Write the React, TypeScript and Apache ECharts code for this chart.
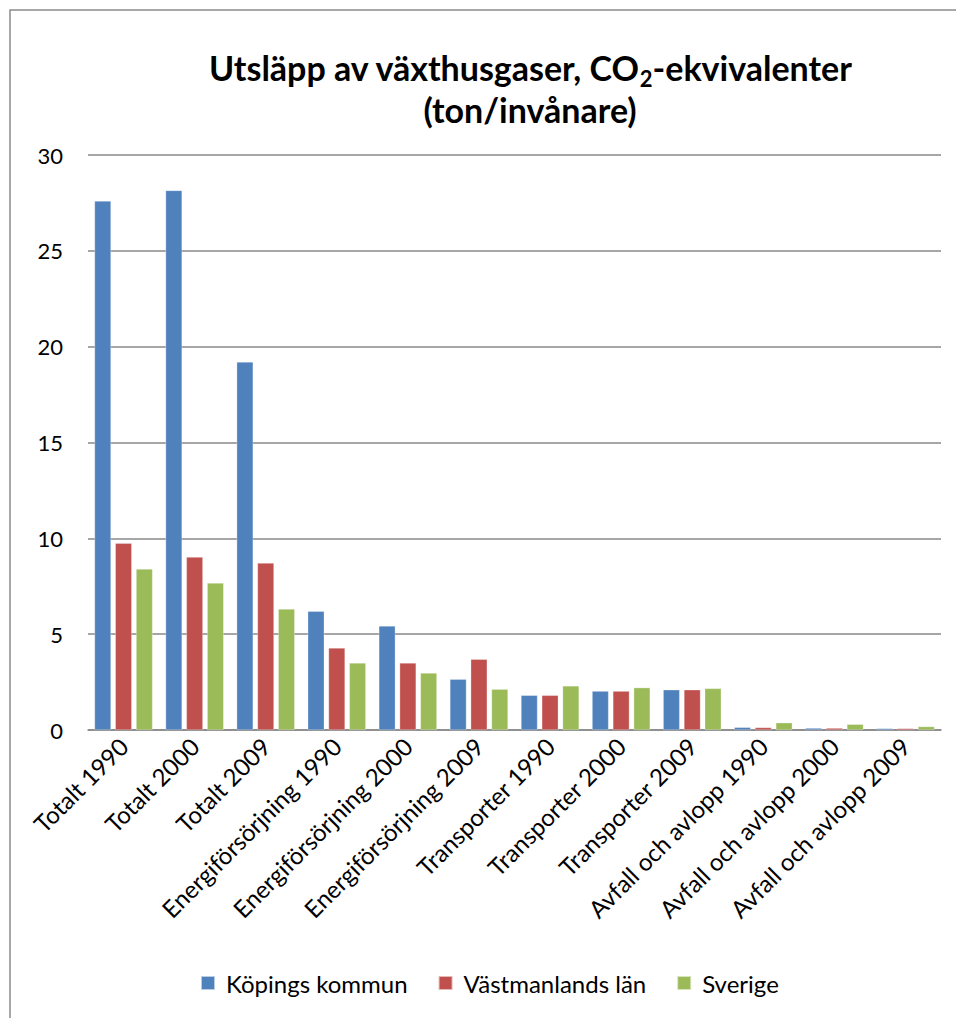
import React, { useEffect, useRef } from "react";
import * as echarts from "echarts";

const categories = [
  "Totalt 1990",
  "Totalt 2000",
  "Totalt 2009",
  "Energiförsörjning 1990",
  "Energiförsörjning 2000",
  "Energiförsörjning 2009",
  "Transporter 1990",
  "Transporter 2000",
  "Transporter 2009",
  "Avfall och avlopp 1990",
  "Avfall och avlopp 2000",
  "Avfall och avlopp 2009",
];
const koping = [27.6, 28.15, 19.2, 6.2, 5.43, 2.65, 1.81, 2.03, 2.1, 0.14, 0.1, 0.08];
const vastmanland = [9.75, 9.02, 8.71, 4.28, 3.5, 3.69, 1.81, 2.03, 2.1, 0.13, 0.1, 0.08];
const sverige = [8.4, 7.67, 6.31, 3.5, 2.97, 2.13, 2.3, 2.21, 2.17, 0.38, 0.3, 0.18];
const seriesNames = ["Köpings kommun", "Västmanlands län", "Sverige"];
const colors = ["#4F81BD", "#C0504D", "#9BBB59"];
const FONT = "Lato, 'Open Sans', sans-serif";

export default function App() {
  const ref = useRef<HTMLDivElement>(null);
  useEffect(() => {
    if (!ref.current) return;
    const chart = echarts.init(ref.current, null, { renderer: "svg" });
    const data = [koping, vastmanland, sverige];
    const legendPadRight = [0, 14, 0];
    chart.setOption({
      animation: false,
      backgroundColor: "#ffffff",
      textStyle: { fontFamily: FONT },
      graphic: [
        {
          type: "rect",
          shape: { x: 10, y: 10, width: 960, height: 1030 },
          style: { fill: "none", stroke: "#8c8c8c", lineWidth: 1.5 },
          silent: true,
        },
        {
          type: "text",
          x: 530,
          y: 46,
          style: {
            text: "{b|Utsläpp av växthusgaser, CO}{s|2}{b|-ekvivalenter}\n{b|(ton/invånare)}",
            textAlign: "center",
            fill: "#000",
            rich: {
              b: { fontSize: 34, fontWeight: "bold", fontFamily: FONT, lineHeight: 42, fill: "#000" },
              s: { fontSize: 22, fontWeight: "bold", fontFamily: FONT, lineHeight: 42, padding: [22, 0, 0, 0], fill: "#000" },
            },
          },
        },
      ],
      legend: {
        bottom: 18,
        left: 195,
        itemWidth: 14,
        itemHeight: 14,
        itemGap: 30,
        icon: "rect",
        textStyle: { fontSize: 24, color: "#000", fontFamily: FONT, padding: [0, 0, 0, 6] },
        data: seriesNames.map((n, i) => ({
          name: n,
          textStyle: { padding: [0, legendPadRight[i], 0, 6] },
        })),
      },
      grid: { left: 88, right: 15, top: 155, bottom: 288, containLabel: false },
      xAxis: {
        type: "category",
        data: categories,
        axisLine: { show: true, lineStyle: { color: "#888", width: 1.5 } },
        axisTick: { show: false },
        axisLabel: {
          rotate: 45,
          interval: 0,
          fontSize: 24,
          color: "#000",
          fontFamily: FONT,
          margin: 12,
        },
      },
      yAxis: {
        type: "value",
        min: 0,
        max: 30,
        interval: 5,
        axisLine: { show: false },
        axisTick: { show: false },
        axisLabel: { fontSize: 22, color: "#000", fontFamily: FONT, margin: 25 },
        splitLine: { lineStyle: { color: "#888", width: 1.5 } },
      },
      series: data.map((d, i) => ({
        name: seriesNames[i],
        type: "bar",
        data: d,
        barWidth: 16.5,
        barGap: "26%",
        itemStyle: { color: colors[i], borderColor: "rgba(255,255,255,0.6)", borderWidth: 0.5 },
      })),
    });
    return () => chart.dispose();
  }, []);
  return (
    <div
      ref={ref}
      style={{ position: "fixed", left: 0, top: 0, width: 956, height: 1018 }}
    />
  );
}
